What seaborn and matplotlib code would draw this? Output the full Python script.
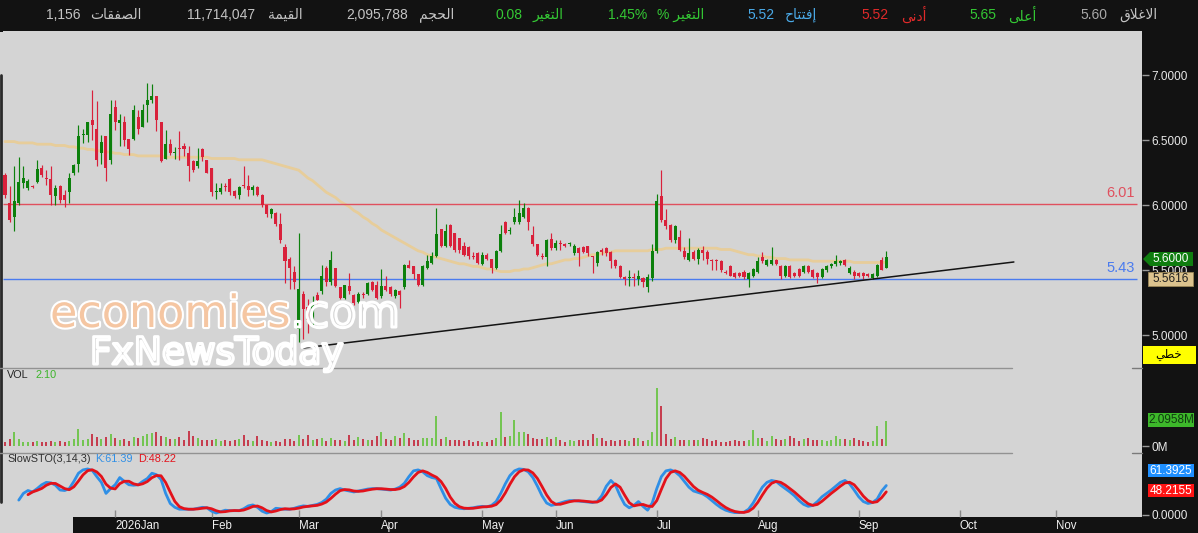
import numpy as np
import pandas as pd
import matplotlib
matplotlib.use("Agg")
import matplotlib.pyplot as plt
import matplotlib.patheffects as pe
from matplotlib.patches import Rectangle, Polygon
from matplotlib.lines import Line2D
import seaborn as sns

sns.set_style("white")
plt.rcParams["font.family"] = ["Liberation Sans", "DejaVu Sans"]

nan = float("nan")

# ------------------------------------------------------------------ data
opens = [
    6.23, 6.02, 5.91, 6.02, 6.17, 6.13, 6.15, 6.18, 6.29, 6.21,
    6.20, 6.07, 6.15, 6.08, 6.10, 6.25, 6.32, 6.54, 6.54, 6.66,
    6.59, 6.40, 6.53, 6.35, 6.76, 6.63, 6.64, 6.51, 6.51, 6.68,
    6.60, 6.77, 6.81, 6.84, 6.64, 6.36, 6.47, 6.40, 6.44, 6.46,
    6.40, 6.34, 6.30, 6.43, 6.35, 6.29, 6.10, 6.10, 6.15, 6.20,
    6.11, 6.08, 6.16, 6.15, 6.12, 6.14, 6.08, 6.00, 5.93, 5.94,
    5.86, 5.68, 5.59, 5.49, 5.05, 5.32, 5.22, 5.12, 5.31, 5.34,
    5.52, 5.41, 5.52, 5.37, 5.29, 5.38, 5.31, 5.26, 5.32, 5.32,
    5.41, 5.39, 5.30, 5.38, 5.37, 5.30, 5.34, 5.37, 5.54, 5.53,
    5.47, 5.39, 5.52, 5.56, 5.61, 5.82, 5.69, 5.85, 5.79, 5.75,
    5.69, 5.68, 5.61, 5.63, 5.55, 5.62, 5.59, 5.52, 5.65, 5.87,
    5.80, 5.87, 5.87, 5.91, 5.98, 5.77, 5.70, 5.61, 5.60, 5.74,
    5.67, 5.71, 5.70, 5.70, 5.63, 5.67, 5.68, 5.69, 5.61, 5.56,
    5.66, 5.67, 5.64, 5.58, 5.53, 5.45, 5.44, 5.45, 5.43, 5.44,
    5.37, 5.44, 5.65, 6.07, 5.89, 5.85, 5.73, 5.76, 5.65, 5.58,
    5.64, 5.59, 5.66, 5.64, 5.58, 5.58, 5.57, 5.49, 5.53, 5.48,
    5.48, 5.49, 5.43, 5.46, 5.49, 5.60, 5.54, 5.55, 5.58, 5.53,
    5.46, 5.53, 5.48, 5.51, 5.49, 5.53, 5.50, 5.48, 5.45, 5.50,
    5.53, 5.55, 5.56, 5.58, 5.48, 5.49, 5.48, 5.48, 5.47, 5.44,
    5.46, 5.58, 5.52,
]
highs = [
    6.25, 6.15, 6.30, 6.37, 6.30, 6.20, 6.16, 6.35, 6.31, 6.27,
    6.30, 6.16, 6.16, 6.12, 6.25, 6.32, 6.62, 6.59, 6.64, 6.89,
    6.80, 6.54, 6.53, 6.81, 6.81, 6.70, 6.69, 6.51, 6.77, 6.73,
    6.78, 6.94, 6.93, 6.84, 6.64, 6.58, 6.51, 6.45, 6.57, 6.48,
    6.46, 6.35, 6.44, 6.44, 6.35, 6.29, 6.17, 6.17, 6.17, 6.21,
    6.12, 6.15, 6.30, 6.23, 6.16, 6.15, 6.09, 6.00, 5.98, 5.95,
    5.94, 5.70, 5.60, 5.53, 5.79, 5.34, 5.28, 5.30, 5.33, 5.54,
    5.53, 5.65, 5.52, 5.37, 5.39, 5.48, 5.32, 5.33, 5.33, 5.41,
    5.42, 5.42, 5.51, 5.46, 5.38, 5.36, 5.35, 5.55, 5.58, 5.53,
    5.47, 5.54, 5.62, 5.64, 5.98, 5.82, 5.86, 5.86, 5.79, 5.75,
    5.72, 5.69, 5.64, 5.64, 5.64, 5.63, 5.59, 5.66, 5.85, 5.88,
    5.83, 5.98, 6.04, 6.02, 5.99, 5.84, 5.70, 5.63, 5.74, 5.79,
    5.73, 5.73, 5.71, 5.72, 5.70, 5.68, 5.69, 5.69, 5.61, 5.65,
    5.67, 5.68, 5.65, 5.59, 5.54, 5.46, 5.50, 5.48, 5.50, 5.45,
    5.47, 5.70, 6.09, 6.27, 5.97, 5.86, 5.85, 5.81, 5.68, 5.75,
    5.66, 5.67, 5.69, 5.66, 5.59, 5.59, 5.58, 5.50, 5.54, 5.49,
    5.49, 5.50, 5.49, 5.52, 5.60, 5.64, 5.59, 5.68, 5.59, 5.54,
    5.54, 5.54, 5.49, 5.52, 5.54, 5.54, 5.51, 5.49, 5.52, 5.54,
    5.56, 5.62, 5.58, 5.59, 5.53, 5.50, 5.49, 5.49, 5.48, 5.48,
    5.55, 5.60, 5.65,
]
lows = [
    6.06, 5.87, 5.80, 6.00, 6.13, 6.12, 6.13, 6.17, 6.22, 6.16,
    6.00, 6.00, 6.02, 5.99, 6.02, 6.23, 6.26, 6.48, 6.49, 6.50,
    6.30, 6.32, 6.19, 6.32, 6.58, 6.46, 6.46, 6.39, 6.50, 6.55,
    6.60, 6.64, 6.79, 6.57, 6.33, 6.36, 6.39, 6.36, 6.35, 6.38,
    6.19, 6.26, 6.29, 6.34, 6.25, 6.07, 6.05, 6.09, 6.11, 6.08,
    6.06, 6.05, 6.13, 6.07, 6.08, 6.07, 5.99, 5.91, 5.90, 5.84,
    5.71, 5.40, 5.36, 5.36, 4.95, 4.97, 5.02, 5.08, 5.24, 5.32,
    5.38, 5.39, 5.37, 5.28, 5.28, 5.32, 5.23, 5.25, 5.29, 5.31,
    5.34, 5.28, 5.29, 5.34, 5.30, 5.29, 5.21, 5.36, 5.52, 5.43,
    5.38, 5.38, 5.51, 5.55, 5.60, 5.68, 5.68, 5.68, 5.64, 5.63,
    5.61, 5.59, 5.59, 5.55, 5.54, 5.58, 5.48, 5.51, 5.64, 5.78,
    5.78, 5.86, 5.86, 5.90, 5.81, 5.69, 5.61, 5.59, 5.53, 5.66,
    5.66, 5.66, 5.68, 5.69, 5.62, 5.53, 5.63, 5.61, 5.48, 5.53,
    5.62, 5.61, 5.52, 5.52, 5.44, 5.39, 5.38, 5.38, 5.39, 5.37,
    5.33, 5.42, 5.63, 5.87, 5.82, 5.72, 5.71, 5.65, 5.59, 5.57,
    5.58, 5.55, 5.58, 5.55, 5.50, 5.50, 5.49, 5.47, 5.46, 5.44,
    5.45, 5.43, 5.37, 5.45, 5.48, 5.56, 5.53, 5.54, 5.54, 5.43,
    5.45, 5.44, 5.45, 5.45, 5.48, 5.48, 5.44, 5.40, 5.44, 5.49,
    5.52, 5.53, 5.54, 5.53, 5.47, 5.43, 5.45, 5.43, 5.45, 5.43,
    5.45, 5.50, 5.52,
]
closes = [
    6.08, 5.89, 6.03, 6.18, 6.21, 6.19, 6.14, 6.28, 6.23, 6.20,
    6.08, 6.13, 6.04, 6.04, 6.21, 6.31, 6.53, 6.55, 6.64, 6.62,
    6.35, 6.49, 6.29, 6.70, 6.64, 6.66, 6.50, 6.43, 6.73, 6.59,
    6.73, 6.81, 6.84, 6.66, 6.34, 6.47, 6.40, 6.41, 6.43, 6.43,
    6.30, 6.27, 6.34, 6.37, 6.25, 6.10, 6.11, 6.13, 6.14, 6.10,
    6.07, 6.14, 6.15, 6.12, 6.14, 6.08, 6.00, 5.93, 5.97, 5.86,
    5.73, 5.57, 5.52, 5.41, 5.36, 5.20, 5.12, 5.25, 5.27, 5.46,
    5.41, 5.58, 5.38, 5.29, 5.39, 5.34, 5.25, 5.32, 5.31, 5.40,
    5.35, 5.29, 5.38, 5.35, 5.32, 5.35, 5.31, 5.54, 5.52, 5.47,
    5.39, 5.53, 5.57, 5.61, 5.78, 5.69, 5.80, 5.69, 5.66, 5.66,
    5.62, 5.61, 5.60, 5.56, 5.62, 5.59, 5.52, 5.65, 5.78, 5.79,
    5.80, 5.91, 5.94, 5.98, 5.87, 5.70, 5.62, 5.60, 5.73, 5.67,
    5.71, 5.70, 5.69, 5.71, 5.69, 5.63, 5.64, 5.63, 5.60, 5.64,
    5.64, 5.63, 5.57, 5.53, 5.45, 5.43, 5.45, 5.44, 5.46, 5.41,
    5.45, 5.65, 6.03, 5.89, 5.84, 5.73, 5.84, 5.66, 5.60, 5.63,
    5.59, 5.66, 5.63, 5.59, 5.57, 5.57, 5.50, 5.48, 5.46, 5.45,
    5.46, 5.45, 5.48, 5.51, 5.57, 5.57, 5.58, 5.58, 5.55, 5.46,
    5.53, 5.45, 5.46, 5.46, 5.53, 5.49, 5.45, 5.45, 5.51, 5.53,
    5.55, 5.57, 5.57, 5.54, 5.52, 5.46, 5.46, 5.46, 5.46, 5.47,
    5.54, 5.50, 5.60,
]
volumes_m = [
    0.36, 0.57, 1.14, 0.62, 0.36, 0.31, 0.36, 0.44, 0.31, 0.36,
    0.41, 0.31, 0.44, 0.36, 0.44, 0.57, 1.40, 0.52, 0.62, 1.03,
    0.78, 0.62, 0.78, 1.03, 0.70, 0.52, 0.57, 0.44, 0.78, 0.67,
    0.83, 1.03, 1.09, 1.19, 0.83, 0.78, 0.62, 0.57, 0.78, 0.52,
    1.29, 0.83, 0.70, 0.52, 0.52, 0.52, 0.57, 0.44, 0.52, 0.44,
    0.52, 0.57, 0.88, 0.52, 0.44, 0.83, 0.52, 0.44, 0.36, 0.44,
    0.36, 0.57, 0.57, 0.44, 0.88, 0.58, 0.93, 0.54, 0.58, 0.70,
    0.40, 0.65, 0.47, 0.47, 0.40, 0.93, 0.47, 0.75, 0.58, 0.51,
    0.47, 0.86, 1.21, 0.58, 0.47, 0.82, 0.63, 1.10, 0.70, 0.54,
    0.51, 0.70, 0.70, 0.63, 2.50, 0.58, 0.75, 0.54, 0.47, 0.47,
    0.42, 0.51, 0.35, 0.42, 0.30, 0.35, 0.47, 0.65, 2.80, 0.77,
    0.82, 2.20, 1.14, 1.14, 1.00, 0.65, 0.58, 0.58, 0.75, 0.58,
    0.75, 0.47, 0.30, 0.51, 0.40, 0.51, 0.47, 0.47, 0.98, 0.63,
    0.65, 0.40, 0.51, 0.40, 0.47, 0.51, 0.40, 0.63, 0.70, 0.40,
    0.54, 1.14, 4.80, 3.30, 1.00, 0.58, 0.75, 0.51, 0.47, 0.47,
    0.54, 0.51, 0.70, 0.58, 0.40, 0.47, 0.35, 0.30, 0.40, 0.51,
    0.40, 0.40, 0.54, 1.35, 0.70, 0.70, 0.40, 0.82, 0.58, 0.51,
    0.58, 0.82, 0.70, 0.40, 0.58, 0.70, 0.51, 0.47, 0.47, 0.42,
    0.54, 0.82, 0.58, 0.58, 0.51, 0.70, 0.51, 0.40, 0.35, 0.40,
    1.63, 0.58, 2.0958,
]
ma_values = [
    6.49, 6.49, 6.49, 6.48, 6.48, 6.48, 6.48, 6.47, 6.47, 6.47,
    6.47, 6.46, 6.46, 6.46, 6.45, 6.45, 6.44, 6.44, 6.43, 6.43,
    6.42, 6.42, 6.41, 6.41, 6.40, 6.40, 6.39, 6.39, 6.39, 6.38,
    6.38, 6.38, 6.38, 6.38, 6.38, 6.37, 6.37, 6.37, 6.37, 6.37,
    6.37, 6.37, 6.37, 6.37, 6.37, 6.36, 6.36, 6.36, 6.36, 6.36,
    6.36, 6.35, 6.35, 6.35, 6.35, 6.35, 6.35, 6.34, 6.33, 6.32,
    6.31, 6.30, 6.29, 6.28, 6.27, 6.24, 6.21, 6.19, 6.16, 6.13,
    6.10, 6.08, 6.06, 6.03, 6.01, 5.99, 5.96, 5.94, 5.91, 5.89,
    5.86, 5.84, 5.81, 5.79, 5.77, 5.75, 5.73, 5.71, 5.69, 5.67,
    5.65, 5.64, 5.62, 5.61, 5.60, 5.59, 5.58, 5.57, 5.56, 5.55,
    5.55, 5.54, 5.53, 5.53, 5.52, 5.51, 5.51, 5.50, 5.49, 5.49,
    5.49, 5.50, 5.50, 5.51, 5.51, 5.52, 5.53, 5.54, 5.55, 5.55,
    5.56, 5.57, 5.58, 5.58, 5.59, 5.59, 5.60, 5.61, 5.62, 5.62,
    5.63, 5.64, 5.64, 5.65, 5.65, 5.65, 5.65, 5.65, 5.65, 5.65,
    5.65, 5.66, 5.66, 5.66, 5.67, 5.67, 5.67, 5.67, 5.67, 5.67,
    5.67, 5.67, 5.67, 5.67, 5.67, 5.67, 5.66, 5.66, 5.66, 5.65,
    5.64, 5.63, 5.62, 5.62, 5.61, 5.61, 5.60, 5.60, 5.59, 5.59,
    5.59, 5.58, 5.58, 5.58, 5.58, 5.58, 5.57, 5.57, 5.57, 5.57,
    5.57, 5.57, 5.57, 5.57, 5.57, 5.56, 5.56, 5.56, 5.56, 5.56,
    5.56, 5.56, 5.5616,
]
k_values = [
    nan, nan, nan, 31, 45, 51, 48, 55, 63, 68,
    67, 62, 52, 51, 55, 70, 87, 94, 96, 93,
    80, 68, 45, 55, 63, 78, 70, 63, 62, 63,
    70, 76, 87, 84, 74, 45, 24, 16, 12, 12,
    12, 12, 14, 16, 15, 8, 4, 7, 10, 9,
    9, 9, 13, 19, 21, 16, 8, 4, 7, 14,
    13, 12, 12, 14, 17, 19, 18, 20, 22, 26,
    33, 45, 52, 55, 52, 50, 48, 50, 52, 54,
    55, 55, 54, 53, 52, 54, 58, 66, 80, 92,
    94, 90, 82, 78, 76, 55, 35, 22, 16, 14,
    13, 14, 15, 17, 18, 17, 20, 28, 45, 65,
    82, 92, 96, 95, 90, 78, 60, 40, 25, 20,
    22, 25, 28, 30, 30, 29, 28, 27, 26, 28,
    40, 60, 72, 62, 40, 22, 15, 20, 28, 18,
    10, 25, 55, 80, 92, 94, 90, 82, 70, 58,
    50, 47, 44, 38, 30, 22, 15, 10, 7, 5,
    5, 6, 12, 25, 42, 58, 68, 72, 70, 62,
    55, 48, 40, 30, 22, 18, 20, 28, 38, 45,
    52, 60, 68, 72, 65, 52, 38, 28, 24, 26,
    33, 50, 61.39,
]
d_values = [
    nan, nan, nan, nan, nan, 42.3, 48, 51.3, 55.3, 62,
    66, 65.7, 60.3, 55, 52.7, 58.7, 70.7, 83.7, 92.3, 94.3,
    89.7, 80.3, 64.3, 56, 54.3, 65.3, 70.3, 70.3, 65, 62.7,
    65, 69.7, 77.7, 82.3, 81.7, 67.7, 47.7, 28.3, 17.3, 13.3,
    12, 12, 12.7, 14, 15, 13, 9, 6.3, 7, 8.7,
    9.3, 9, 10.3, 13.7, 17.7, 18.7, 15, 9.3, 6.3, 8.3,
    11.3, 13, 12.3, 12.7, 14.3, 16.7, 18, 19, 20, 22.7,
    27, 34.7, 43.3, 50.7, 53, 52.3, 50, 49.3, 50, 52,
    53.7, 54.7, 54.7, 54, 53, 53, 54.7, 59.3, 68, 79.3,
    88.7, 92, 88.7, 83.3, 78.7, 69.7, 55.3, 37.3, 24.3, 17.3,
    14.3, 13.7, 14, 15.3, 16.7, 17.3, 18.3, 21.7, 31, 46,
    64, 79.7, 90, 94.3, 93.7, 87.7, 76, 59.3, 41.7, 28.3,
    22.3, 22.3, 25, 27.7, 29.3, 29.7, 29, 28, 27, 27,
    31.3, 42.7, 57.3, 64.7, 58, 41.3, 25.7, 19, 21, 22,
    18.7, 17.7, 30, 53.3, 75.7, 88.7, 92, 88.7, 80.7, 70,
    59.3, 51.7, 47, 43, 37.3, 30, 22.3, 15.7, 10.7, 7.3,
    5.7, 5.3, 7.7, 14.3, 26.3, 41.7, 56, 66, 70, 68,
    62.3, 55, 47.7, 39.3, 30.7, 23.3, 20, 22, 28.7, 37,
    45, 52.3, 60, 66.7, 68.3, 63, 51.7, 39.3, 30, 26,
    27.7, 36.3, 48.22,
]

month_labels = ["2026Jan", "Feb", "Mar", "Apr", "May", "Jun", "Jul", "Aug", "Sep", "Oct", "Nov"]
month_start_bar = [24, 45, 64, 82, 104, 120, 142, 164, 186, 208, 229]

resistance_level = 6.01
support_level = 5.43
trend_bars = [64.9, 219.8]
trend_prices = [4.902, 5.564]

price_ticks = [5.0, 5.5, 6.0, 6.5, 7.0]

header_labels = ["الاغلاق", "أعلى", "أدنى", "إفتتاح", "التغير %", "التغير", "الحجم", "القيمة", "الصفقات"]
header_values = ["5.60", "5.65", "5.52", "5.52", "1.45%", "0.08", "2,095,788", "11,714,047", "1,156"]

last_close_tag = "5.6000"
ma_tag = "5.5616"
chart_type = "خطي"
vol_tag = "2.0958M"
k_tag = "61.3925"
d_tag = "48.2155"

# ------------------------------------------------------------------ arabic shaping (visual order)
FORMS = {
    "ا": ("\uFE8D", "\uFE8E", None, None), "أ": ("\uFE83", "\uFE84", None, None),
    "إ": ("\uFE87", "\uFE88", None, None), "ت": ("\uFE95", "\uFE96", "\uFE97", "\uFE98"),
    "ة": ("\uFE93", "\uFE94", None, None), "ج": ("\uFE9D", "\uFE9E", "\uFE9F", "\uFEA0"),
    "ح": ("\uFEA1", "\uFEA2", "\uFEA3", "\uFEA4"), "خ": ("\uFEA5", "\uFEA6", "\uFEA7", "\uFEA8"),
    "د": ("\uFEA9", "\uFEAA", None, None), "ر": ("\uFEAD", "\uFEAE", None, None),
    "ص": ("\uFEB9", "\uFEBA", "\uFEBB", "\uFEBC"), "ط": ("\uFEC1", "\uFEC2", "\uFEC3", "\uFEC4"),
    "ع": ("\uFEC9", "\uFECA", "\uFECB", "\uFECC"), "غ": ("\uFECD", "\uFECE", "\uFECF", "\uFED0"),
    "ف": ("\uFED1", "\uFED2", "\uFED3", "\uFED4"), "ق": ("\uFED5", "\uFED6", "\uFED7", "\uFED8"),
    "ل": ("\uFEDD", "\uFEDE", "\uFEDF", "\uFEE0"), "م": ("\uFEE1", "\uFEE2", "\uFEE3", "\uFEE4"),
    "ن": ("\uFEE5", "\uFEE6", "\uFEE7", "\uFEE8"), "ى": ("\uFEEF", "\uFEF0", None, None),
    "ي": ("\uFEF1", "\uFEF2", "\uFEF3", "\uFEF4"),
}
LAM_ALEF = {"ا": ("\uFEFB", "\uFEFC"), "أ": ("\uFEF7", "\uFEF8"), "إ": ("\uFEF9", "\uFEFA")}


def _dual(ch):
    return ch in FORMS and FORMS[ch][2] is not None


def shape_word(word):
    out, i, n = [], 0, len(word)
    while i < n:
        ch = word[i]
        if ch not in FORMS:
            out.append(ch)
            i += 1
            continue
        join_prev = i > 0 and _dual(word[i - 1])
        if ch == "ل" and i + 1 < n and word[i + 1] in LAM_ALEF:
            iso, fin = LAM_ALEF[word[i + 1]]
            out.append(fin if join_prev else iso)
            i += 2
            continue
        join_next = _dual(ch) and i + 1 < n and word[i + 1] in FORMS
        iso, fin, ini, med = FORMS[ch]
        if join_prev and join_next:
            out.append(med)
        elif join_prev:
            out.append(fin)
        elif join_next:
            out.append(ini)
        else:
            out.append(iso)
        i += 1
    return "".join(reversed(out))


def visual(s):
    return " ".join(shape_word(w) for w in reversed(s.split(" ")))


# ------------------------------------------------------------------ figure
W, H = 1198, 533
fig = plt.figure(figsize=(W / 100, H / 100), dpi=100, facecolor="#d4d4d4")


def fx(px):
    return px / W


def fy(py):
    return 1 - py / H


def add_rect(x0, y0, x1, y1, color, z=-1, edge="none", lw=0):
    r = Rectangle((fx(x0), fy(y1)), (x1 - x0) / W, (y1 - y0) / H, transform=fig.transFigure,
                  facecolor=color, edgecolor=edge, linewidth=lw, zorder=z)
    fig.add_artist(r)


def add_line(x0, y0, x1, y1, color, lw=1, z=2):
    fig.add_artist(Line2D([fx(x0), fx(x1)], [fy(y0), fy(y1)], transform=fig.transFigure,
                          color=color, linewidth=lw, zorder=z))


BG = "#d4d4d4"
DARK = "#121212"
# black frame parts
add_rect(0, 0, W, 32, DARK)
add_rect(1142, 31, W, H, DARK)
add_rect(73, 517, 1142, H, DARK)
add_line(1, 75, 1, 502, "#2a2a2a", lw=2)

PX0, PX1 = 3, 1142
SPACING = 4.59
XMIN = (PX0 - 5) / SPACING
XMAX = (PX1 - 5) / SPACING

ax_p = fig.add_axes([fx(PX0), fy(368), (PX1 - PX0) / W, (368 - 31) / H])
ax_v = fig.add_axes([fx(PX0), fy(453), (PX1 - PX0) / W, (453 - 368) / H])
ax_s = fig.add_axes([fx(PX0), fy(517), (PX1 - PX0) / W, (517 - 453) / H])
for ax in (ax_p, ax_v, ax_s):
    ax.set_facecolor(BG)
    for sp in ax.spines.values():
        sp.set_visible(False)
    ax.set_xlim(XMIN, XMAX)
    ax.yaxis.tick_right()
    ax.tick_params(axis="y", direction="out", length=5, width=1, color="#9a9a9a",
                   labelcolor="#e8e8e8", labelsize=8.5, pad=1.5, left=False, right=True,
                   labelleft=False, labelright=True)

bars = pd.DataFrame({
    "bar": np.arange(len(closes)), "open": opens, "high": highs, "low": lows,
    "close": closes, "volume": volumes_m, "ma": ma_values, "k": k_values, "d": d_values,
})
GREEN, RED = "#0c800c", "#d9213b"
VGREEN, VRED = "#5cc232", "#c3182e"
up = bars["close"] >= bars["open"]
ccol = np.where(up, GREEN, RED)
vcol = np.where(up, VGREEN, VRED)

# ---- price panel
ax_p.set_ylim(4.7485, 7.3408)
sns.lineplot(data=bars, x="bar", y="ma", ax=ax_p, color="#e7cd9a", linewidth=2.0,
             errorbar=None, legend=False, zorder=2)
ax_p.hlines(resistance_level, XMIN, (1137 - 5) / SPACING, color="#e0505e", linewidth=1.0, zorder=2.5)
ax_p.hlines(support_level, XMIN, (1137 - 5) / SPACING, color="#4a7bef", linewidth=1.0, zorder=2.5)
ax_p.vlines(bars["bar"], bars["low"], bars["high"], colors=ccol, linewidth=0.85, zorder=3)
body_lo = np.minimum(bars["open"], bars["close"])
body_h = np.maximum((bars["close"] - bars["open"]).abs(), 0.008)
ax_p.bar(bars["bar"], body_h, bottom=body_lo, width=0.66, color=ccol, linewidth=0, zorder=4)
ax_p.plot(trend_bars, trend_prices, color="#141414", linewidth=1.1, zorder=5)
ax_p.annotate(f"{resistance_level:.2f}", xy=((1135 - 5) / SPACING, resistance_level), xytext=(0, 3),
              textcoords="offset points", ha="right", va="bottom", color="#e0505e", fontsize=10.5)
ax_p.annotate(f"{support_level:.2f}", xy=((1135 - 5) / SPACING, support_level), xytext=(0, 3),
              textcoords="offset points", ha="right", va="bottom", color="#4a7bef", fontsize=10.5)
ax_p.set_yticks(price_ticks)
ax_p.set_yticklabels([f"{v:.4f}" for v in price_ticks])
ax_p.set_xticks([])
ax_p.set_xlabel("")
ax_p.set_ylabel("")

# ---- volume panel
ax_v.set_ylim(-0.58, 6.5)
ax_v.vlines(bars["bar"], 0, bars["volume"], colors=vcol, linewidth=1.15, zorder=3)
ax_v.set_yticks([0])
ax_v.set_yticklabels(["0M"])
ax_v.set_xticks([])

# ---- stochastic panel
ax_s.set_ylim(-4.2, 129.2)
sns.lineplot(data=bars, x="bar", y="k", ax=ax_s, color="#2f8fe6", linewidth=2.0,
             errorbar=None, legend=False, zorder=3)
sns.lineplot(data=bars, x="bar", y="d", ax=ax_s, color="#e3121b", linewidth=2.0,
             errorbar=None, legend=False, zorder=4)
ax_s.set_yticks([0])
ax_s.set_yticklabels(["0.0000"])
ax_s.set_xticks(month_start_bar)
ax_s.set_xticklabels(month_labels, ha="left")
ax_s.tick_params(axis="x", direction="in", length=5, width=1, color="#8a8a8a",
                 labelcolor="#f2f2f2", labelsize=8.3, pad=2.5, bottom=True)
ax_s.set_xlabel("")
ax_s.set_ylabel("")

# separators
for yy in (368, 453):
    add_line(0, yy, 1012, yy, "#929292", lw=1, z=2)
    add_line(1132, yy, 1142, yy, "#7a7a7a", lw=1, z=2)

# ---- header
label_cx = [1138, 1022.5, 914, 801.5, 681, 547.5, 437, 285, 116]
value_cx = [1093.5, 982.5, 874.5, 760.5, 628, 509, 377.5, 221, 63]
label_col = ["#c4c4c4", "#34c834", "#e02a2a", "#4aaae8", "#34c834", "#34c834", "#c4c4c4", "#c4c4c4", "#c4c4c4"]
value_col = ["#a8a8a8", "#34c834", "#e02a2a", "#4aaae8", "#34c834", "#34c834", "#c4c4c4", "#c4c4c4", "#c4c4c4"]
for lab, val, lx, vx, lc, vc in zip(header_labels, header_values, label_cx, value_cx, label_col, value_col):
    fig.text(fx(lx), fy(15), visual(lab), color=lc, fontsize=10, ha="center", va="center")
    fig.text(fx(vx), fy(15), val, color=vc, fontsize=10, ha="center", va="center")

# ---- panel captions
fig.text(fx(7), fy(375), "VOL", color="#262626", fontsize=7.8, ha="left", va="center")
fig.text(fx(35), fy(375), f"{volumes_m[-1]:.2f}", color="#3cb52a", fontsize=7.8, ha="left", va="center")
fig.text(fx(7), fy(459.5), "SlowSTO(3,14,3)", color="#303030", fontsize=7.8, ha="left", va="center")
fig.text(fx(95), fy(459.5), f"K:{k_values[-1]:.2f}", color="#2f8fe6", fontsize=7.8, ha="left", va="center")
fig.text(fx(138), fy(459.5), f"D:{d_values[-1]:.2f}", color="#e3121b", fontsize=7.8, ha="left", va="center")

# ---- right-side value tags
arrow = Polygon([(fx(1143), fy(259)), (fx(1150), fy(252)), (fx(1193), fy(252)),
                 (fx(1193), fy(266)), (fx(1150), fy(266))], closed=True,
                transform=fig.transFigure, facecolor="#0f7d0f", edgecolor="none", zorder=5)
fig.add_artist(arrow)
fig.text(fx(1171), fy(259), last_close_tag, color="white", fontsize=8.5, ha="center", va="center", zorder=6)
add_rect(1148, 272, 1193, 286, "#dcc38e", z=5, edge="#9a8656", lw=0.6)
fig.text(fx(1170.5), fy(279), ma_tag, color="#1e1e1e", fontsize=8.5, ha="center", va="center", zorder=6)
add_rect(1143, 346, 1196, 364, "#ffff00", z=5)
fig.text(fx(1169), fy(355), visual(chart_type), color="black", fontsize=8.5, ha="center", va="center", zorder=6)
add_rect(1148, 413, 1194, 427, "#3db82a", z=5)
fig.text(fx(1171), fy(420), vol_tag, color="#103a10", fontsize=8.5, ha="center", va="center", zorder=6)
add_rect(1148, 464, 1194, 477, "#1e8fff", z=5)
fig.text(fx(1171), fy(470.5), k_tag, color="white", fontsize=8.5, ha="center", va="center", zorder=6)
add_rect(1148, 484, 1194, 497, "#ff1414", z=5)
fig.text(fx(1171), fy(490.5), d_tag, color="white", fontsize=8.5, ha="center", va="center", zorder=6)

# ---- watermark
renderer = fig.canvas.get_renderer()
wm1 = fig.text(fx(50), fy(327), "economies", fontsize=32, color="#f5c6a2", family="DejaVu Sans",
               ha="left", va="baseline", zorder=4,
               path_effects=[pe.withStroke(linewidth=3, foreground="white")])
bb = wm1.get_window_extent(renderer)
fig.text(bb.x1 / W, fy(327), ".com", fontsize=32, color="none", family="DejaVu Sans",
         ha="left", va="baseline", zorder=4,
         path_effects=[pe.Stroke(linewidth=2.2, foreground="white")])
fig.text(fx(90), fy(364), "FxNewsToday", fontsize=27, color="none", family="DejaVu Sans",
         ha="left", va="baseline", zorder=4,
         path_effects=[pe.Stroke(linewidth=2.2, foreground="white")])

fig.savefig("out.png", dpi=100, facecolor=fig.get_facecolor())
